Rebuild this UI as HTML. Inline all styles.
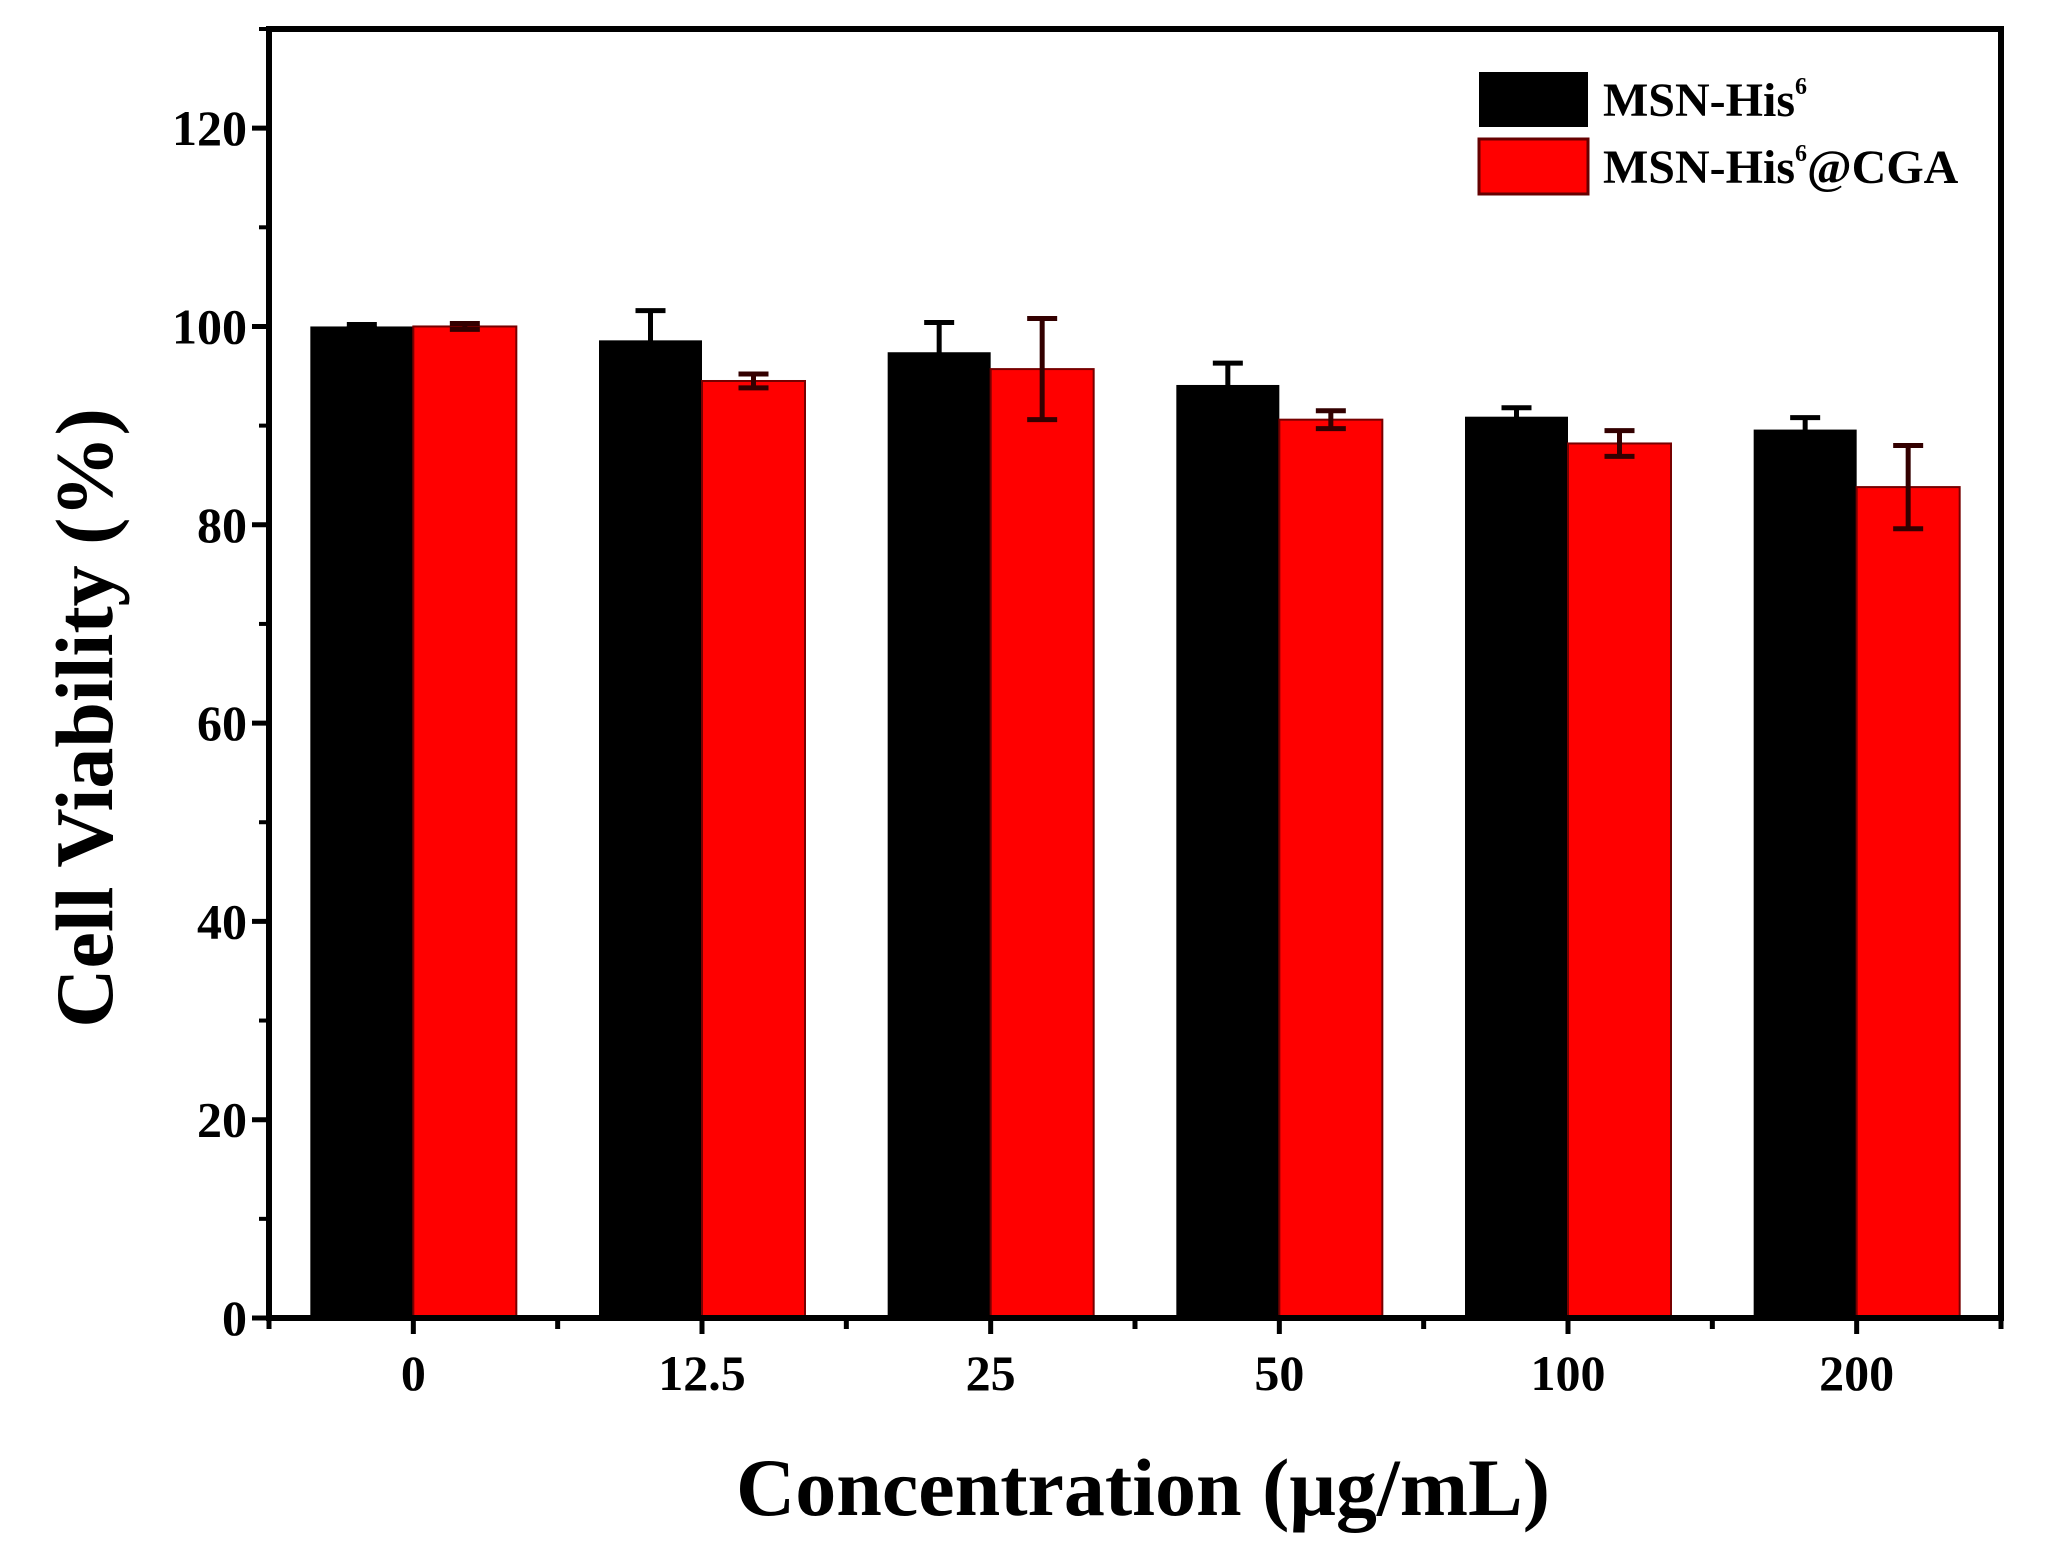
<!DOCTYPE html>
<html><head><meta charset="utf-8"><style>
html,body{margin:0;padding:0;background:#fff;}
svg{display:block;}
text{font-family:"Liberation Serif",serif;font-weight:bold;fill:#000;}
</style></head><body>
<svg id="chart" width="2050" height="1553" viewBox="0 0 2050 1553" xmlns="http://www.w3.org/2000/svg">
<g id="bars"></g>
<g id="axes"></g>
<g>
  <rect x="1479" y="72" width="109" height="55" fill="#000"/>
  <rect x="1479" y="139" width="109" height="55" fill="#ff0000" stroke="#600" stroke-width="3"/>
  <text x="1603" y="116" font-size="48">MSN-His<tspan font-size="24" dy="-22">6</tspan></text>
  <text x="1603" y="183" font-size="48">MSN-His<tspan font-size="24" dy="-22">6</tspan><tspan dy="22">@CGA</tspan></text>
</g>
<text x="1143" y="1515" font-size="82" text-anchor="middle">Concentration (μg/mL)</text>
<text transform="translate(112,718) rotate(-90)" font-size="82" text-anchor="middle">Cell Viability (%)</text>
<script>
const categories=["0","12.5","25","50","100","200"];
const seriesBlack=[100,98.6,97.4,94.1,90.9,89.6];
const errBlack=[0.2,3.0,3.0,2.2,0.9,1.2];
const seriesRed=[100,94.5,95.7,90.6,88.2,83.8];
const errRed=[0.3,0.7,5.1,0.9,1.3,4.2];
const yTicks=[0,20,40,60,80,100,120];
const yMinor=[10,30,50,70,90,110,130];
const NS="http://www.w3.org/2000/svg";
const L=269,R=2001,T=29,B=1318,YMAX=130;
const step=(R-L)/categories.length;
const bw=103;
function y(v){return B-(v/YMAX)*(B-T);}
function xc(i){return L+step*(i+0.5);}
function mk(tag,attrs,parent){const e=document.createElementNS(NS,tag);for(const k in attrs)e.setAttribute(k,attrs[k]);parent.appendChild(e);return e;}
const bars=document.getElementById('bars');
const axes=document.getElementById('axes');
categories.forEach((c,i)=>{
  const cx=xc(i);
  let b=mk('rect',{x:cx-bw,y:y(seriesBlack[i]),width:bw,height:B-y(seriesBlack[i]),fill:'#000'},bars);
  
  
  let r=mk('rect',{x:cx,y:y(seriesRed[i]),width:bw,height:B-y(seriesRed[i]),fill:'#ff0000',stroke:'#700','stroke-width':2},bars);
  
  
  [[cx-bw/2,seriesBlack[i],errBlack[i],'#000','black'],[cx+bw/2,seriesRed[i],errRed[i],'#300','red']].forEach(([ex,v,e,col,nm])=>{
    const g=mk('g',{stroke:col,'stroke-width':5},bars);
    
    
    mk('line',{x1:ex,x2:ex,y1:y(v+e),y2:y(v-e)},g);
    mk('line',{x1:ex-15,x2:ex+15,y1:y(v+e),y2:y(v+e)},g);
    mk('line',{x1:ex-15,x2:ex+15,y1:y(v-e),y2:y(v-e)},g);
  });
  const lab=mk('text',{x:cx,y:1390,'font-size':50,'text-anchor':'middle'},axes);
  lab.textContent=c;
  
  
  mk('line',{x1:cx,x2:cx,y1:B,y2:B+16,stroke:'#000','stroke-width':5},axes);
  mk('line',{x1:L+step*i,x2:L+step*i,y1:B,y2:B+11,stroke:'#000','stroke-width':5},axes);
});
mk('line',{x1:R,x2:R,y1:B,y2:B+11,stroke:'#000','stroke-width':5},axes);
yTicks.forEach(t=>{
  mk('line',{x1:L-17,x2:L,y1:y(t),y2:y(t),stroke:'#000','stroke-width':5},axes);
  const lab=mk('text',{x:L-22,y:y(t)+17,'font-size':50,'text-anchor':'end'},axes);
  lab.textContent=t;
  
  
});
yMinor.forEach(t=>{mk('line',{x1:L-10,x2:L,y1:y(t),y2:y(t),stroke:'#000','stroke-width':4},axes);});
const frame=mk('rect',{x:L,y:T,width:R-L,height:B-T,fill:'none',stroke:'#000','stroke-width':6},axes);


</script>
</svg>
</body></html>
